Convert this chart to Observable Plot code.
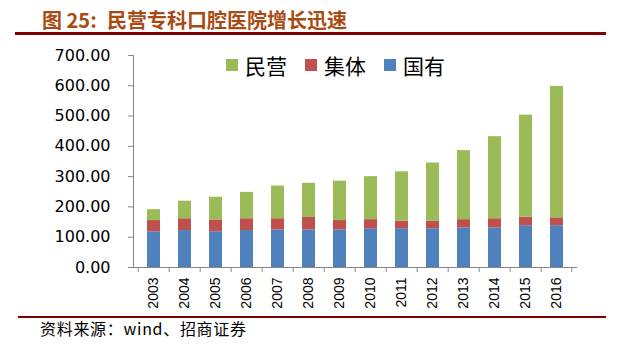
<!DOCTYPE html>
<html><head><meta charset="utf-8">
<script src="https://cdn.jsdelivr.net/npm/d3@7"></script>
<script src="https://cdn.jsdelivr.net/npm/@observablehq/plot@0.6"></script>
<style>
body{margin:0;background:#fff;}
#wrap{position:relative;width:627px;height:344px;overflow:hidden;background:#fff;}
#chart{position:absolute;left:0;top:0;}
.title{position:absolute;top:8px;font-family:"Noto Sans CJK SC",sans-serif;font-weight:bold;font-size:20px;line-height:24px;color:#A84A12;white-space:nowrap;}
.rule{position:absolute;background:#800000;}
#legend{position:absolute;left:226px;top:50px;display:flex;align-items:center;font-family:"Noto Sans CJK SC",sans-serif;font-size:21px;line-height:30px;color:#000;}
#legend .item{display:flex;align-items:center;margin-right:18px;}
#legend .sw{width:12px;height:12px;margin-right:7px;}
#source{position:absolute;left:40px;top:318px;font-family:"Noto Sans CJK SC",sans-serif;font-size:16px;letter-spacing:0.7px;line-height:21px;color:#000;white-space:nowrap;}
</style></head><body>
<div id="wrap">
  <div id="chart"></div>
  <div class="title" style="left:42px">图 25:</div>
  <div class="title" id="titleText" style="left:107px"></div>
  <div class="rule" style="left:15px;top:32px;width:591px;height:3px;"></div>
  <div id="legend"></div>
  <div class="rule" style="left:18px;top:316px;width:588px;height:2px;"></div>
  <div id="source"></div>
</div>
<script>
const titleText = "民营专科口腔医院增长迅速";
const sourceText = "资料来源：wind、招商证券";
const years = ["2003","2004","2005","2006","2007","2008","2009","2010","2011","2012","2013","2014","2015","2016"];
const stateOwned   = [118,122,118,122,124,124,124,128,128,128,131,131,138,138]; // 国有
const collective   = [37,39,39,39,37,41,31,30,25,25,27,30,28,26];            // 集体
const privateOwned = [36,58,75,87,108,113,130,142,163,192,228,271,337,434];  // 民营
const seriesNames = ["国有","集体","民营"];
const seriesColors = ["#4F81BD","#C0504D","#9BBB59"];
const legendOrder = ["民营","集体","国有"];
const yTicks = [0,100,200,300,400,500,600,700];

document.getElementById("titleText").textContent = titleText;
document.getElementById("source").textContent = sourceText;

const seriesValues = {"国有": stateOwned, "集体": collective, "民营": privateOwned};
const data = years.flatMap((yr, i) => seriesNames.map(s => ({year: yr, type: s, value: seriesValues[s][i]})));

const legend = document.getElementById("legend");
legendOrder.forEach(name => {
  const item = document.createElement("div"); item.className = "item";
  const sw = document.createElement("div"); sw.className = "sw";
  sw.style.background = seriesColors[seriesNames.indexOf(name)];
  const t = document.createElement("span"); t.textContent = name;
  item.append(sw, t); legend.append(item);
});

const axisGray = "#868686";
const chart = Plot.plot({
  width: 627, height: 344,
  marginLeft: 133, marginRight: 50, marginTop: 55, marginBottom: 77,
  style: {background: "transparent", fontFamily: "DejaVu Sans, sans-serif", color: "#000"},
  x: {domain: years, paddingInner: 0.57, paddingOuter: 0.285, label: null},
  y: {domain: [0, 700], label: null},
  color: {domain: seriesNames, range: seriesColors},
  marks: [
    Plot.barY(data, {x: "year", y: "value", fill: "type", order: seriesNames}),
    Plot.ruleY([0], {stroke: axisGray}),
    Plot.frame({anchor: "left", stroke: axisGray}),
    Plot.axisY({ticks: yTicks, tickFormat: d => d.toFixed(2), tickSize: 5, tickPadding: 18,
                fontSize: 16, fontFamily: "DejaVu Sans, sans-serif", stroke: axisGray, fill: "#000", label: null}),
    Plot.axisX({tickSize: 0, tickRotate: -90, tickPadding: 10, fontSize: 14,
                fontFamily: "Liberation Sans, Arial, sans-serif", fill: "#000", label: null})
  ]
});
document.getElementById("chart").append(chart);

// category boundary ticks on the x axis, placed with Plot's own x scale
const xs = chart.scale("x");
const y0 = chart.scale("y").apply(0);
const half = xs.step * 0.57 / 2;
const bounds = years.map(yr => xs.apply(yr) - half).concat([xs.apply(years[years.length - 1]) + xs.bandwidth + half]);
const g = d3.select(chart).append("g").attr("stroke", axisGray);
bounds.forEach(bx => g.append("line").attr("x1", bx).attr("x2", bx).attr("y1", y0).attr("y2", y0 + 5));
</script>
</body></html>
